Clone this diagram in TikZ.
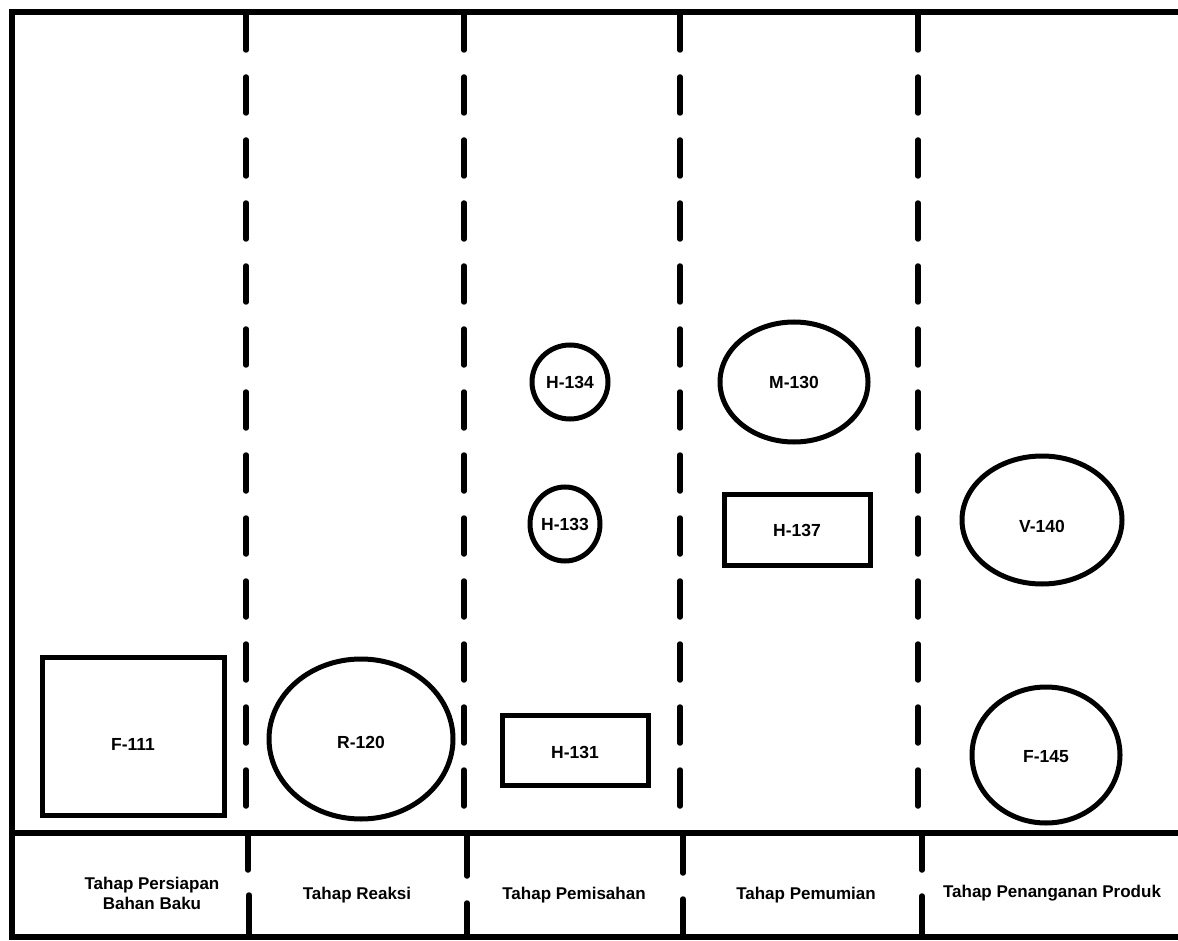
\documentclass[tikz,border=0pt]{standalone}
\usepackage{fontspec}
\setmainfont{Liberation Sans}
\usetikzlibrary{shapes.geometric}
\tikzset{
  frameline/.style={line width=5.5pt},
  stagesep/.style={line width=5.5pt, line cap=round, dash pattern=on 36pt off 27pt},
  solidsep/.style={line width=5.5pt, line cap=round},
  unitfont/.style={font=\bfseries\fontsize{17.5}{20}\selectfont},
  unitrect/.style={draw, line width=5pt, rectangle, inner sep=0pt, unitfont},
  unitoval/.style={draw, line width=5pt, ellipse, inner sep=0pt, unitfont},
  stagelabel/.style={font=\bfseries\fontsize{17}{20}\selectfont, align=center, inner sep=0pt}
}
\begin{document}
\begin{tikzpicture}[x=1pt,y=-1pt]
\useasboundingbox (0,0) rectangle (1178,941);
% frame
\draw[frameline] (1190,12) -- (12,12) -- (12,937) -- (1190,937);
\draw[frameline] (12,833) -- (1190,833);
% dashed stage separators
\foreach \x in {246,464,680,918} {
  \draw[stagesep] (\x,14) -- (\x,833);
}
% bottom separators
\coordinate (b1t) at (248,833); \coordinate (b1m) at (248,870);
\coordinate (b1n) at (249,895); \coordinate (b1b) at (249,937);
\draw[solidsep] (b1t) -- (b1m) (b1n) -- (b1b);
\coordinate (b2t) at (467,833); \coordinate (b2m) at (467,876);
\coordinate (b2n) at (467,903); \coordinate (b2b) at (467,937);
\draw[solidsep] (b2t) -- (b2m) (b2n) -- (b2b);
\coordinate (b3t) at (683,833); \coordinate (b3m) at (683,873);
\coordinate (b3n) at (683,899); \coordinate (b3b) at (683,937);
\draw[solidsep] (b3t) -- (b3m) (b3n) -- (b3b);
\coordinate (b4t) at (922,833); \coordinate (b4m) at (922,870);
\coordinate (b4n) at (922,896); \coordinate (b4b) at (922,937);
\draw[solidsep] (b4t) -- (b4m) (b4n) -- (b4b);
% units
\node[unitrect, minimum width=182pt, minimum height=158pt,
      label={[unitfont, yshift=-8pt]center:F-111}] (F111) at (133,736) {};
\node[unitoval, minimum width=184pt, minimum height=160pt,
      label={[unitfont, yshift=-3pt]center:R-120}] (R120) at (361,739) {};
\node[unitrect, minimum width=146pt, minimum height=70pt,
      label={[unitfont, yshift=-2pt]center:H-131}] (H131) at (575,750) {};
\node[unitoval, minimum width=76pt, minimum height=74pt] (H134) at (570,382) {H-134};
\node[unitoval, minimum width=70pt, minimum height=74pt] (H133) at (565,524) {H-133};
\node[unitoval, minimum width=148pt, minimum height=120pt] (M130) at (794,382) {M-130};
\node[unitrect, minimum width=146pt, minimum height=71pt] (H137) at (797,530) {H-137};
\node[unitoval, minimum width=160pt, minimum height=128pt,
      label={[unitfont, yshift=-6pt]center:V-140}] (V140) at (1042,520) {};
\node[unitoval, minimum width=148pt, minimum height=136pt,
      label={[unitfont, yshift=-2pt]center:F-145}] (F145) at (1046,755) {};
% stage labels
\node[stagelabel] (s1) at (152,893) {Tahap Persiapan\\Bahan Baku};
\node[stagelabel] (s2) at (357,895) {Tahap Reaksi};
\node[stagelabel] (s3) at (574,895) {Tahap Pemisahan};
\node[stagelabel] (s4) at (806,895) {Tahap Pemumian};
\node[stagelabel] (s5) at (1052,893) {Tahap Penanganan Produk};
\end{tikzpicture}
\end{document}
